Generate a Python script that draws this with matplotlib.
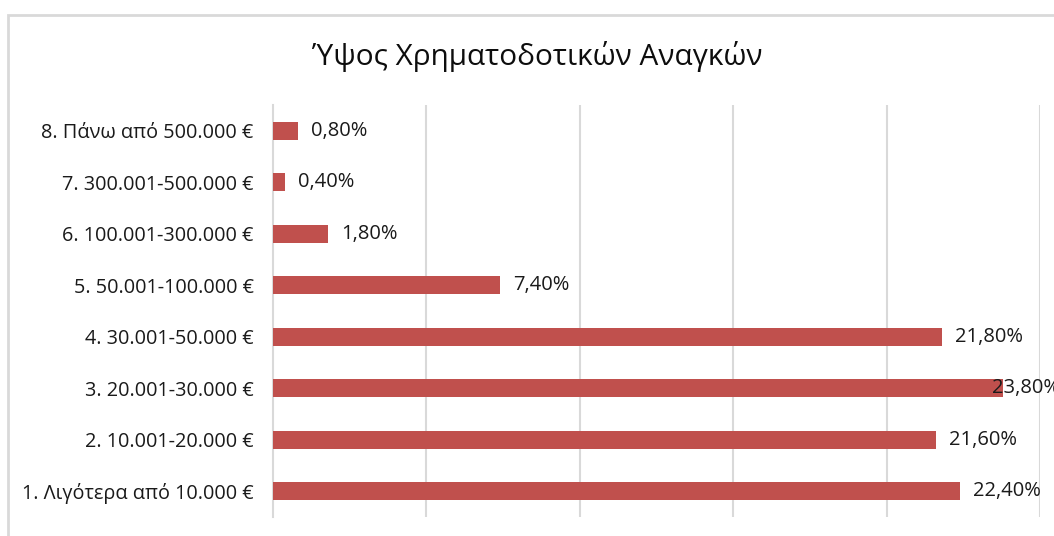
import matplotlib
matplotlib.use("Agg")
import matplotlib.pyplot as plt
from matplotlib.patches import Rectangle

plt.rcParams['font.family'] = ['Open Sans', 'DejaVu Sans']

# Daten
kategorien = [
    "1. Λιγότερα από 10.000 €",
    "2. 10.001-20.000 €",
    "3. 20.001-30.000 €",
    "4. 30.001-50.000 €",
    "5. 50.001-100.000 €",
    "6. 100.001-300.000 €",
    "7. 300.001-500.000 €",
    "8. Πάνω από 500.000 €",
]
werte = [22.4, 21.6, 23.8, 21.8, 7.4, 1.8, 0.4, 0.8]
labels = ["22,40%", "21,60%", "23,80%", "21,80%", "7,40%", "1,80%", "0,40%", "0,80%"]
titel = "Ύψος Χρηματοδοτικών Αναγκών"

fig = plt.figure(figsize=(10.54, 5.36), dpi=100)
ax = fig.add_axes([273 / 1054, 1 - 517 / 536, (1040 - 273) / 1054, (517 - 105) / 536])

# Rahmen des Diagramms (rechts/unten abgeschnitten)
fig.patches.append(Rectangle((8 / 1054, -0.1), 1.2, 1 - 15 / 536 + 0.1,
                             transform=fig.transFigure, fill=False,
                             edgecolor='#d9d9d9', linewidth=2))

y = range(len(kategorien))
ax.barh(y, werte, height=0.35, color='#c0504d', zorder=3)

xmax = 25
for i, (v, t) in enumerate(zip(werte, labels)):
    # Excel schiebt das Label nach links, wenn es nicht mehr passt
    x = min(v + 0.43, xmax - 1.55)
    ax.text(x, i, t, va='center', ha='left', fontsize=14.5, color='#1a1a1a',
            zorder=4, clip_on=False)

ax.set_xlim(0, xmax)
ax.set_ylim(-0.5, len(kategorien) - 0.5)
ax.set_yticks(list(y))
ax.set_yticklabels(kategorien, fontsize=14.3, color='#1a1a1a')
ax.tick_params(axis='y', length=0, pad=14)
ax.set_xticks([5, 10, 15, 20, 25])
ax.tick_params(axis='x', length=0, labelbottom=False)
ax.grid(axis='x', color='#d9d9d9', linewidth=1.5, zorder=0)

for s in ['top', 'right', 'bottom']:
    ax.spines[s].set_visible(False)
ax.spines['left'].set_color('#d9d9d9')
ax.spines['left'].set_linewidth(1.5)

fig.text(537 / 1054, 1 - 57 / 536, titel, ha='center', va='center',
         fontsize=21.4, color='#0d0d0d')

plt.savefig('out.png', dpi=100)
